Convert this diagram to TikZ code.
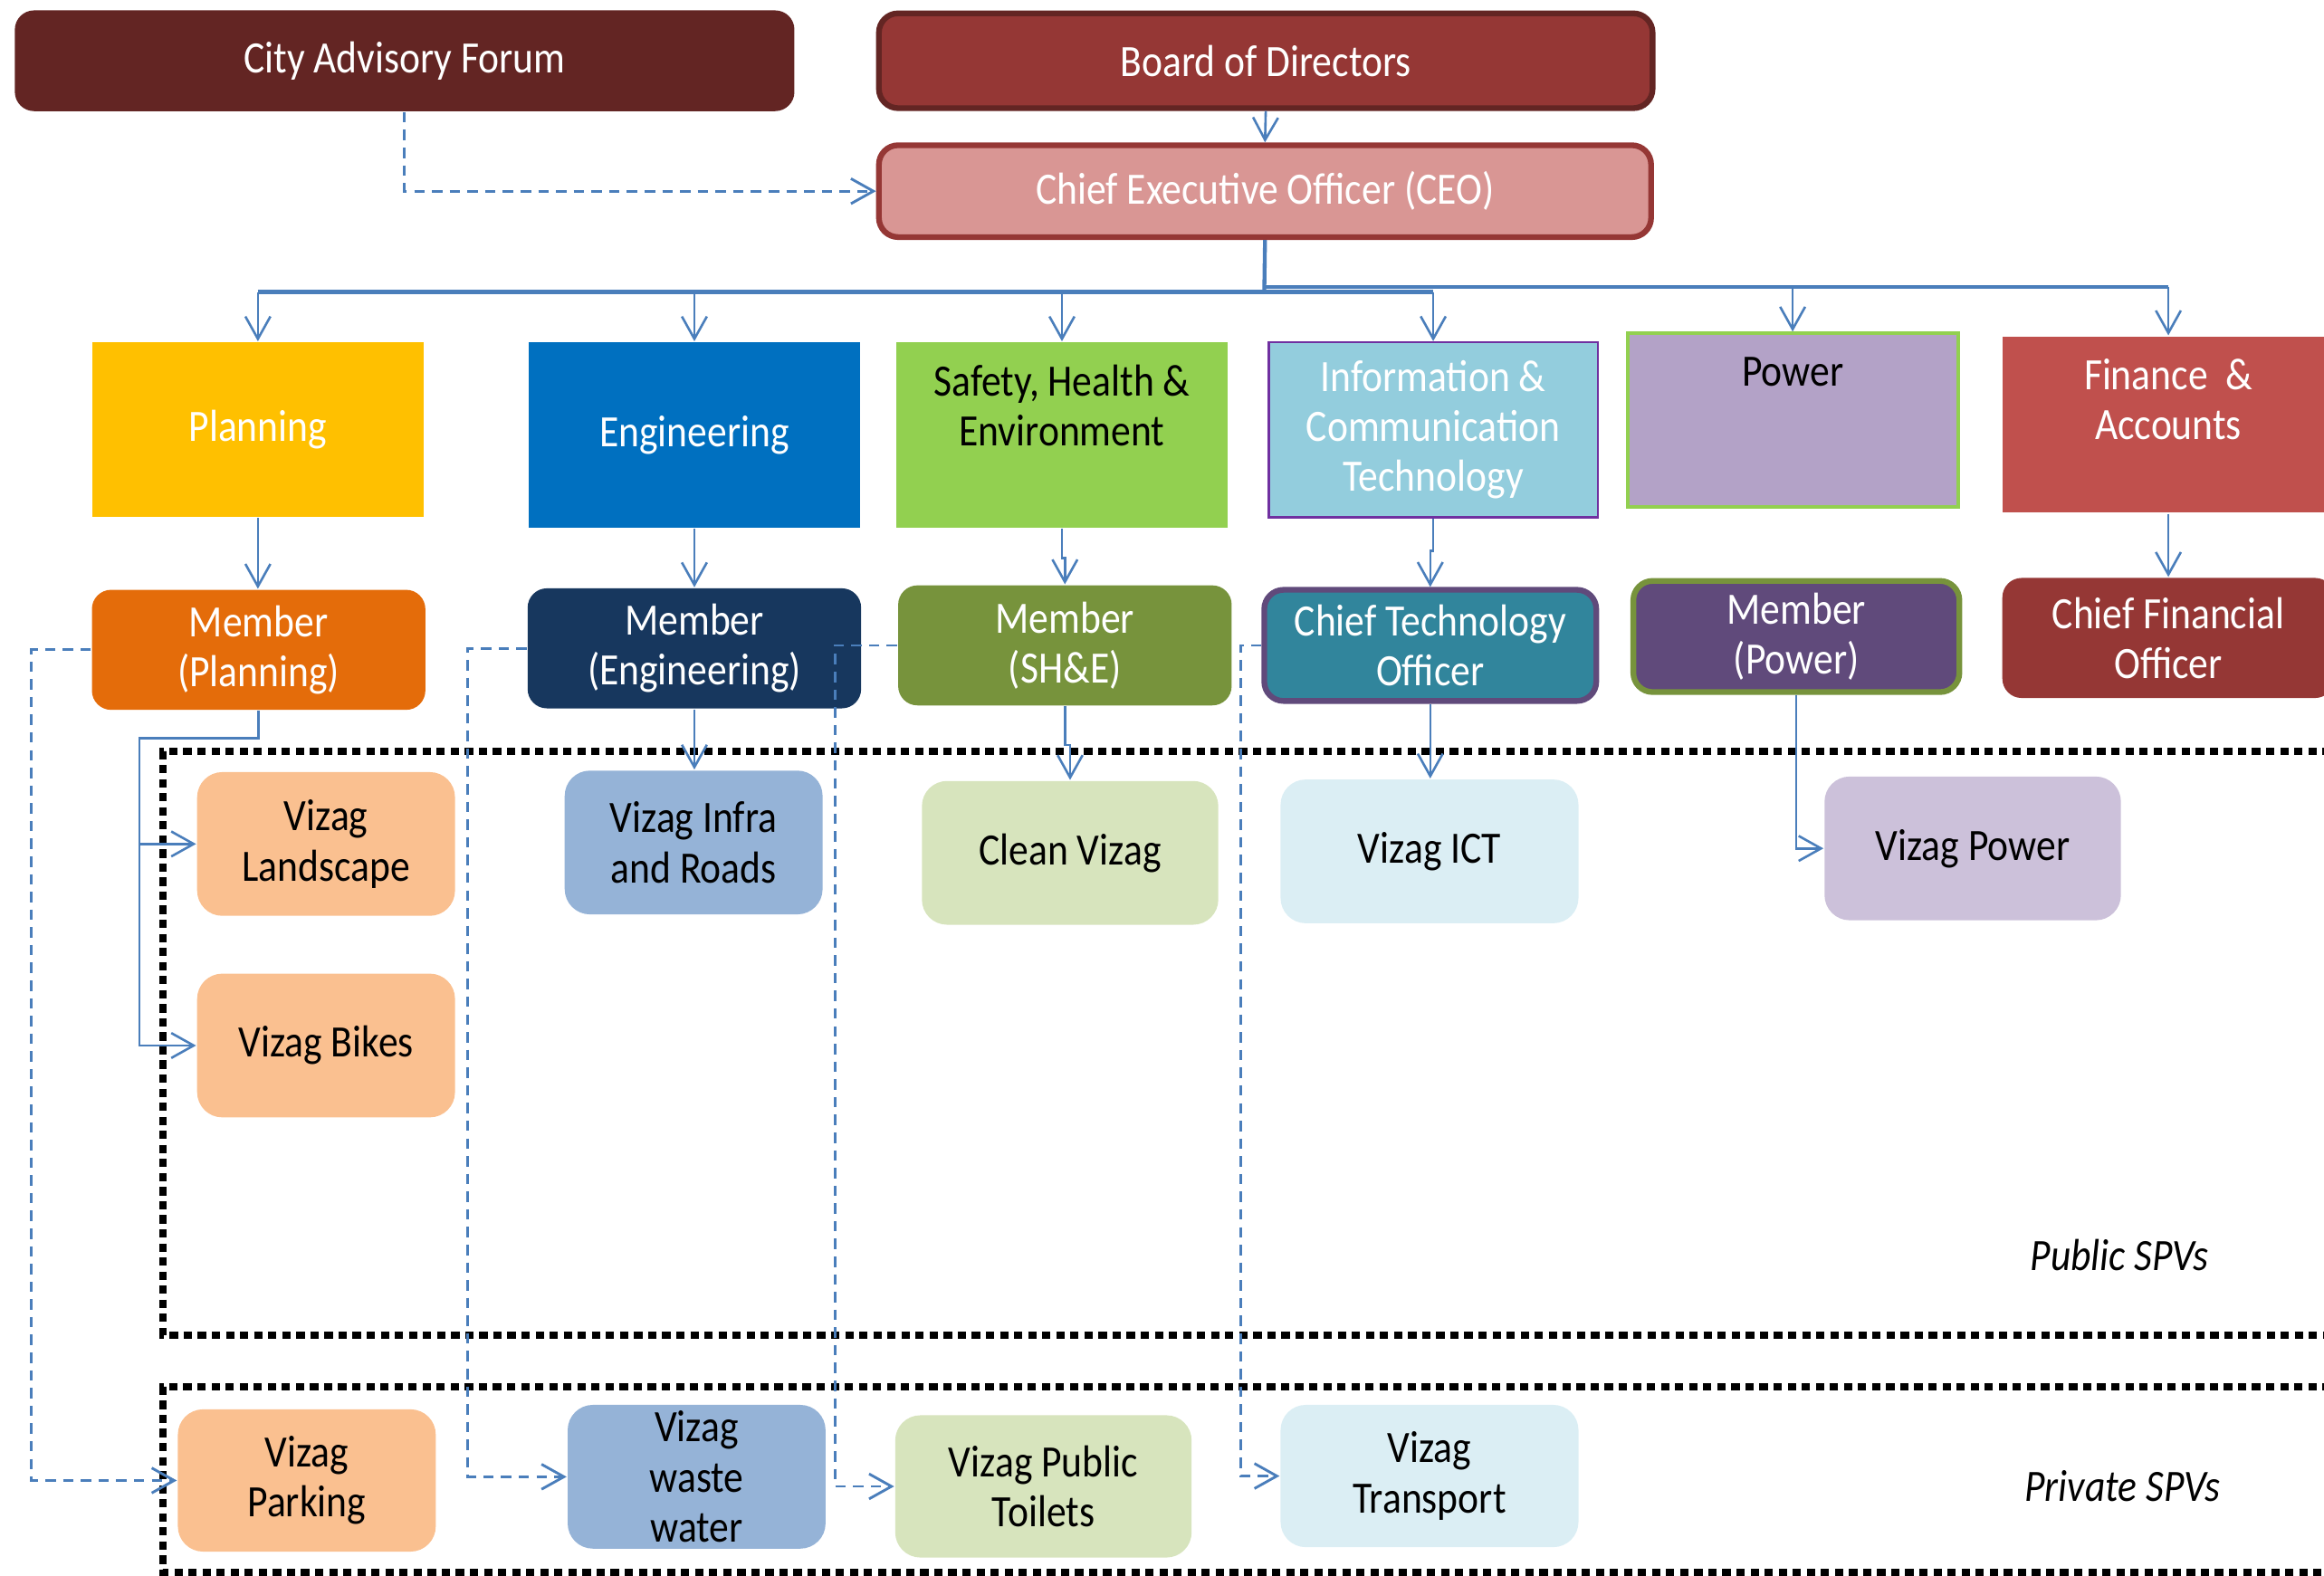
\documentclass[tikz,border=0pt]{standalone}
\usepackage{fontspec}
\setmainfont{Carlito}[FakeStretch=0.88]
\usetikzlibrary{arrows.meta,calc}
\definecolor{cafc}{HTML}{632523}
\definecolor{bodc}{HTML}{953735}
\definecolor{ceoc}{HTML}{D99694}
\definecolor{planc}{HTML}{FFC000}
\definecolor{engc}{HTML}{0070C0}
\definecolor{shec}{HTML}{92D050}
\definecolor{ictc}{HTML}{93CDDD}
\definecolor{ictb}{HTML}{7030A0}
\definecolor{powc}{HTML}{B3A2C7}
\definecolor{finc}{HTML}{C0504D}
\definecolor{mpc}{HTML}{E46C0A}
\definecolor{mec}{HTML}{17375E}
\definecolor{msc}{HTML}{77933C}
\definecolor{ctoc}{HTML}{31859C}
\definecolor{ctob}{HTML}{604A7B}
\definecolor{peach}{HTML}{FAC090}
\definecolor{lblue}{HTML}{95B3D7}
\definecolor{lgreen}{HTML}{D7E4BD}
\definecolor{lcyan}{HTML}{DBEEF4}
\definecolor{lpurple}{HTML}{CCC1DA}
\definecolor{linec}{HTML}{4A7EBB}
\begin{document}
\begin{tikzpicture}[x=0.01cm,y=-0.01cm,
  font=\fontsize{8.6}{9.6}\selectfont,
  wh/.style 2 args={minimum width=#1*0.01cm, minimum height=#2*0.01cm},
  box/.style={rectangle, inner sep=0pt, align=center, text=white},
  rbox/.style={box, rounded corners=0.13cm},
  spv/.style={rectangle, rounded corners=0.17cm, inner sep=0pt, align=center, text=black},
  lbl/.style={align=center, inner sep=0pt},
  tip/.style={-{Straight Barb[length=4.3pt,width=4.8pt]}},
  arr/.style={draw=linec, line width=0.45pt, tip},
  bus/.style={draw=linec, line width=0.75pt},
  darr/.style={draw=linec, line width=0.5pt, dash pattern=on 2pt off 1.4pt, tip},
  frame/.style={draw=black, line width=1.4pt, dash pattern=on 1.6pt off 1.1pt}]
\useasboundingbox (0,0) rectangle (1568,1063.4);
% frames
\draw[frame] (1620,507) -- (110,507) -- (110,901) -- (1620,901);
\draw[frame] (1620,936) -- (110,936) -- (110,1061) -- (1620,1061);
\node[lbl, font=\fontsize{8.6}{9.6}\selectfont\itshape] (pub) at (1430,847) {Public SPVs};
\node[lbl, font=\fontsize{8.6}{9.6}\selectfont\itshape] (priv) at (1432,1003) {Private SPVs};
% top
\node[rbox, fill=cafc, wh={526}{68}] (caf) at (273,41) {City Advisory Forum};
\node[rbox, fill=bodc, draw=cafc, line width=1.1pt, wh={522}{64}] (bod) at (854,41) {Board of Directors};
\node[rbox, fill=ceoc, draw=bodc, line width=1.1pt, wh={521}{62}] (ceo) at (853.5,129) {Chief Executive Officer (CEO)};
% departments
\node[box, fill=planc, wh={224}{118}] (plan) at (174,290) {Planning};
\node[box, fill=engc, wh={223}{125}] (eng) at (468.5,293.5) {Engineering};
\node[box, fill=shec, wh={223}{125}, label={[lbl,text=black,yshift=0.2cm]center:{Safety, Health \&\\Environment}}] (she) at (716.5,293.5) {};
\node[box, fill=ictc, draw=ictb, line width=0.45pt, wh={222}{118}] (ict) at (967,290) {Information \&\\Communication\\Technology};
\node[box, fill=powc, draw=shec, line width=0.7pt, wh={223}{117}, label={[lbl,text=black,yshift=0.325cm]center:Power}] (pow) at (1209.5,283.5) {};
\node[box, fill=finc, wh={224}{119}, label={[lbl,text=white,yshift=0.17cm]center:{Finance\ \ \&\\Accounts}}] (fin) at (1463,286.5) {};
% members
\node[rbox, fill=mpc, wh={225}{81}] (mp) at (174.5,438.5) {Member\\(Planning)};
\node[rbox, fill=mec, wh={225}{81}] (me) at (468.5,437.5) {Member\\(Engineering)};
\node[rbox, fill=msc, wh={225}{81}] (ms) at (718.5,435.5) {Member\\(SH\&E)};
\node[rbox, fill=ctoc, draw=ctob, line width=1.1pt, wh={224}{75}] (cto) at (965,435.5) {Chief Technology\\Officer};
\node[rbox, fill=ctob, draw=msc, line width=1.1pt, wh={220}{75}] (mpw) at (1212,429.5) {Member\\(Power)};
\node[rbox, fill=bodc, wh={224}{81}] (cfo) at (1463,430.5) {Chief Financial\\Officer};
% public SPVs
\node[spv, fill=peach, wh={174}{97}] (vl) at (220,569.5) {Vizag\\Landscape};
\node[spv, fill=peach, wh={174}{97}] (vb) at (220,705.5) {Vizag Bikes};
\node[spv, fill=lblue, wh={174}{97}] (vir) at (468,568.5) {Vizag Infra\\and Roads};
\node[spv, fill=lgreen, wh={200}{97}] (cv) at (722,575.5) {Clean Vizag};
\node[spv, fill=lcyan, wh={201}{97}] (vict) at (964.5,574.5) {Vizag ICT};
\node[spv, fill=lpurple, wh={200}{97}] (vpw) at (1331,572.5) {Vizag Power};
% private SPVs
\node[spv, fill=peach, wh={174}{96}] (park) at (207,999) {Vizag\\Parking};
\node[spv, fill=lblue, wh={174}{97}] (ww) at (470,996.5) {Vizag\\waste\\water};
\node[spv, fill=lgreen, wh={200}{96}] (toil) at (704,1003) {Vizag Public\\Toilets};
\node[spv, fill=lcyan, wh={201}{96}] (tr) at (964.5,996) {Vizag\\Transport};
% connectors top
\draw[darr] (caf.south) |- (ceo.west);
\draw[arr] (bod.south) -- (ceo.north);
\coordinate (busL) at (853,197);
\coordinate (busR) at (853,193.5);
\draw[bus] (ceo.south) -- (busL);
\draw[bus] (busL -| plan.north) -- (busL -| ict.north);
\draw[bus] (busR) -- (busR -| fin.north);
\draw[arr] (busL -| plan.north) -- (plan.north);
\draw[arr] (busL -| eng.north) -- (eng.north);
\draw[arr] (busL -| she.north) -- (she.north);
\draw[arr] (busL -| ict.north) -- (ict.north);
\draw[arr] (busR -| pow.north) -- (pow.north);
\draw[arr] (busR -| fin.north) -- (fin.north);
% department to member
\draw[arr] (plan.south) -- (plan.south |- mp.north);
\draw[arr] (eng.south) -- (eng.south |- me.north);
\draw[arr] (she.south) -- ++(0,20) -| (ms.north);
\draw[arr] (ict.south) -- ++(0,22) -| (cto.north);
\draw[arr] (fin.south) -- (cfo.north);
% member to public SPVs
\coordinate (pj) at (94,498);
\draw[arr] (mp.south) |- (pj) |- (vl.west);
\draw[arr] (pj) |- (vb.west);
\draw[arr] (me.south) -- (me.south |- vir.north);
\draw[arr] (ms.south) -- ++(0,26) -| (cv.north);
\draw[arr] (cto.south) -- (cto.south |- vict.north);
\draw[arr] (mpw.south) |- (vpw.west);
% member to private SPVs (dashed)
\draw[darr] (mp.west) -- ++(-40,0) |- (park.west);
\draw[darr] (me.west) -- ++(-40,0) |- (ww.west);
\draw[darr] (ms.west) -- ++(-42,0) |- (toil.west);
\draw[darr] (cto.west) -- ++(-14,0) |- (tr.west);
\end{tikzpicture}
\end{document}
